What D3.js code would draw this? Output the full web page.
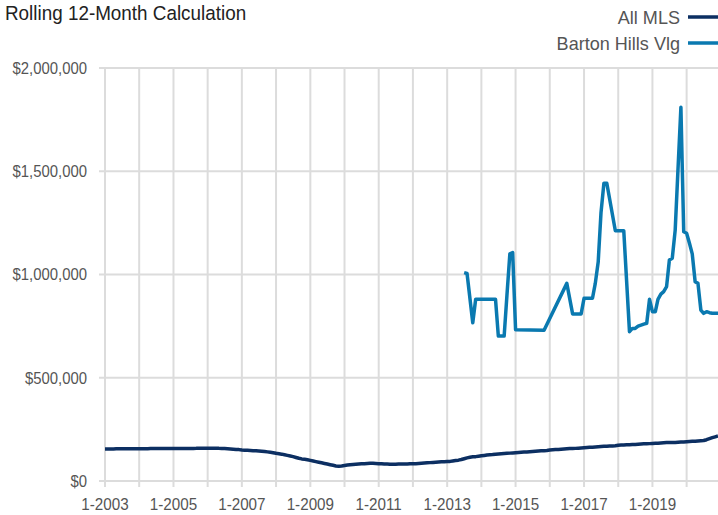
<!DOCTYPE html>
<html><head><meta charset="utf-8">
<script src="https://cdn.jsdelivr.net/npm/d3@7"></script>
<style>
body{margin:0;background:#fff;}
svg{display:block;font-family:"Liberation Sans Narrow","Arial Narrow","Liberation Sans",sans-serif;}
</style></head><body><svg id="c" width="718" height="515"></svg>
<script>
// ---------- DATA ----------
const title = "Rolling 12-Month Calculation";
const seriesNames = ["All MLS", "Barton Hills Vlg"];
const seriesColors = ["#0c2f62", "#0a79b0"];

// All MLS: monthly, Jan 2003 .. Dec 2020 (one row per year)
const allMlsValues = [
  155000,155000,155000,155000,156000,156000,156000,156000,156000,156000,156000,156000,
  156000,156000,156000,156000,157000,157000,157000,157000,157000,157000,157000,157000,
  157000,157000,157000,157000,157000,157000,157000,157000,158000,158000,158000,158000,
  158000,158000,158000,158000,158000,157000,157000,156000,155000,154000,153000,152000,
  150000,149000,149000,148000,147000,146000,145000,144000,143000,141000,139000,137000,
  134000,132000,130000,127000,124000,121000,118000,114000,110000,107000,105000,103000,
  100000,97000,94000,91000,88000,85000,82000,79000,76000,73000,72000,73000,
  75000,77000,79000,80000,81000,82000,83000,84000,85000,86000,86000,85000,
  84000,83000,82000,82000,81000,81000,81000,82000,82000,82000,82000,83000,
  84000,84000,85000,86000,87000,88000,89000,90000,91000,92000,93000,93000,
  94000,95000,97000,99000,101000,104000,108000,112000,115000,117000,118000,120000,
  122000,124000,126000,127000,128000,130000,131000,132000,133000,134000,135000,136000,
  137000,138000,139000,140000,141000,142000,143000,144000,145000,146000,147000,148000,
  150000,151000,152000,153000,154000,155000,156000,157000,157000,158000,159000,160000,
  161000,162000,163000,164000,165000,166000,167000,168000,168000,169000,170000,171000,
  173000,174000,174000,175000,176000,177000,177000,178000,179000,180000,180000,181000,
  182000,183000,183000,184000,185000,186000,186000,187000,187000,188000,189000,189000,
  190000,191000,192000,193000,194000,195000,196000,200000,205000,210000,214000,218000
];

// Barton Hills Vlg: month of each recorded point and its value
const bartonMonths = [
  "2013-07","2013-08","2013-10","2013-11","2014-06","2014-07","2014-09","2014-10","2014-11","2014-12",
  "2015-01","2015-11","2016-07","2016-09","2016-12","2017-01","2017-04","2017-05","2017-06","2017-07",
  "2017-08","2017-09","2017-12","2018-03","2018-05","2018-06","2018-07","2018-08","2018-09","2018-10",
  "2018-11","2018-12","2019-01","2019-02","2019-03","2019-04","2019-05","2019-06","2019-07","2019-08",
  "2019-09","2019-10","2019-11","2019-12","2020-01","2020-02","2020-03","2020-04","2020-05","2020-06",
  "2020-07","2020-08","2020-09","2020-10","2020-11","2020-12"
];
const bartonValues = [
  1009000,1005000,766000,880000,880000,702000,702000,900000,1100000,1106000,
  733000,730000,957000,809000,809000,885000,885000,957000,1060000,1300000,
  1442000,1442000,1212000,1212000,723000,739000,739000,750000,755000,760000,
  764000,880000,820000,820000,880000,905000,917000,941000,1070000,1079000,
  1215000,1510000,1810000,1207000,1200000,1150000,1100000,965000,957000,828000,
  812000,820000,815000,812000,812000,812000
];

const xTickLabels = ["1-2003","1-2005","1-2007","1-2009","1-2011","1-2013","1-2015","1-2017","1-2019"];
const yTickValues = [0, 500000, 1000000, 1500000, 2000000];

// ---------- CHART ----------
const svg = d3.select("#c");
const W = 718, H = 515;
const mLeft = 105, mRight = 718, mTop = 68, mBottom = 481;

// horizontally condense text (emulates a narrow typeface)
function condense(sel, f) {
  sel.each(function () {
    const w = this.getComputedTextLength();
    d3.select(this).attr("textLength", w * f).attr("lengthAdjust", "spacingAndGlyphs");
  });
}

const mlsDates = d3.timeMonth.range(new Date(2003,0,1), new Date(2021,0,1));
const parseM = d3.timeParse("%Y-%m");
const bartonDates = bartonMonths.map(parseM);

const x = d3.scaleTime().domain([new Date(2003,0,1), new Date(2020,11,1)]).range([mLeft, mRight]);
const y = d3.scaleLinear().domain([0, 2000000]).range([mBottom, mTop]);

const gridColor = "#dcdcdc";
const years = d3.timeYear.range(new Date(2003,0,1), new Date(2021,0,1));
svg.append("g").selectAll("line").data(years).join("line")
  .attr("x1", d => x(d)).attr("x2", d => x(d))
  .attr("y1", mTop).attr("y2", mBottom + 6)
  .attr("stroke", gridColor).attr("stroke-width", 2);

svg.append("g").selectAll("line").data(yTickValues).join("line")
  .attr("x1", mLeft - 6).attr("x2", W)
  .attr("y1", d => y(d)).attr("y2", d => y(d))
  .attr("stroke", gridColor).attr("stroke-width", 2);

const fmt = d3.format("$,");
svg.append("g").selectAll("text").data(yTickValues).join("text")
  .attr("x", 87).attr("y", d => y(d)).attr("dy", "0.36em")
  .attr("text-anchor", "end").attr("font-size", 16).attr("fill", "#555")
  .text(d => fmt(d)).call(condense, 0.93);

const labelDates = xTickLabels.map(s => { const [m, yy] = s.split("-"); return new Date(+yy, +m - 1, 1); });
svg.append("g").selectAll("text").data(xTickLabels).join("text")
  .attr("x", (d, i) => x(labelDates[i])).attr("y", 510)
  .attr("text-anchor", "middle").attr("font-size", 16).attr("fill", "#555")
  .text(d => d).call(condense, 0.95);

const line = d3.line().x(d => x(d[0])).y(d => y(d[1]));
svg.append("path").datum(mlsDates.map((d, i) => [d, allMlsValues[i]]))
  .attr("d", line).attr("fill", "none").attr("stroke", seriesColors[0])
  .attr("stroke-width", 3.5).attr("stroke-linejoin", "round");
svg.append("path").datum(bartonDates.map((d, i) => [d, bartonValues[i]]))
  .attr("d", line).attr("fill", "none").attr("stroke", seriesColors[1])
  .attr("stroke-width", 3.5).attr("stroke-linejoin", "round");

svg.append("text").attr("x", 5).attr("y", 20).attr("font-size", 20.5).attr("fill", "#222")
  .text(title).call(condense, 0.92);

const legY = [17, 43];
seriesNames.forEach((n, i) => {
  svg.append("text").attr("x", 680).attr("y", legY[i]).attr("dy", "0.36em")
    .attr("text-anchor", "end").attr("font-size", 19).attr("fill", "#555").text(n).call(condense, 0.95);
  svg.append("line").attr("x1", 688).attr("x2", 718).attr("y1", legY[i]).attr("y2", legY[i])
    .attr("stroke", seriesColors[i]).attr("stroke-width", 3.5);
});
</script></body></html>
